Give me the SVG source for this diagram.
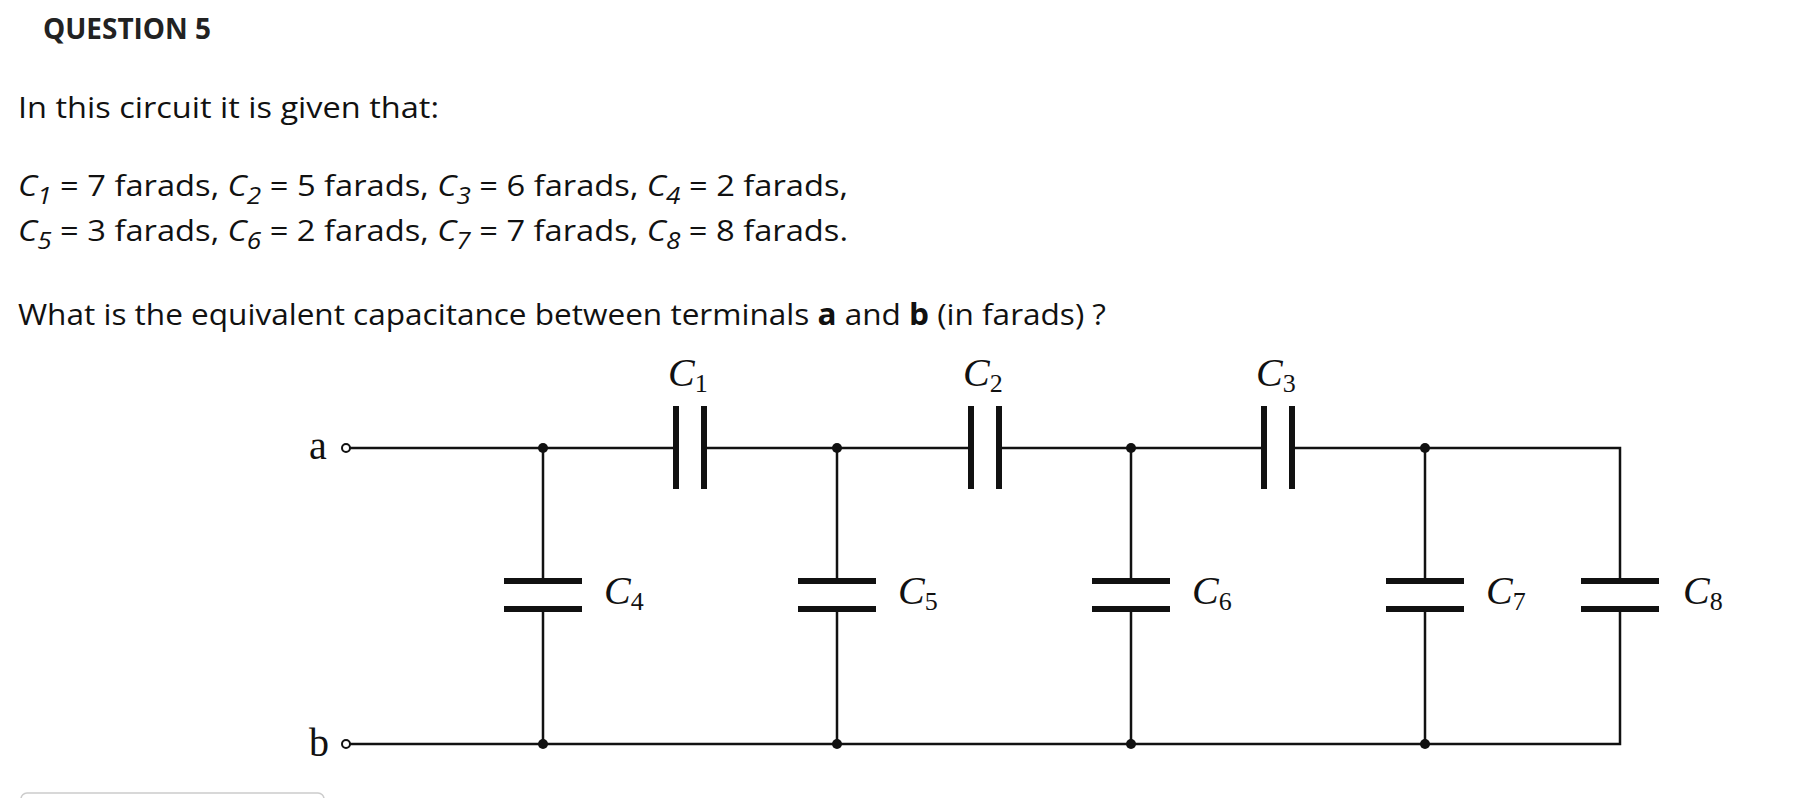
<svg xmlns="http://www.w3.org/2000/svg" width="1794" height="798" viewBox="0 0 1794 798">
<style>
.t{font-family:"Open Sans","DejaVu Sans",sans-serif;font-size:30px;fill:#111}
.m{font-family:"Liberation Serif","DejaVu Serif",serif;font-size:40px;fill:#111}
.w{stroke:#111;stroke-width:2.5;fill:none}
.p{stroke:#111;stroke-width:6;fill:none}
.d{fill:#111}
</style>
<rect width="1794" height="798" fill="#fff"/>
<text x="43" y="39" class="t" style="font-weight:bold;font-size:28px;fill:#222" textLength="168" lengthAdjust="spacingAndGlyphs">QUESTION 5</text>
<text x="18" y="118" class="t" textLength="421" lengthAdjust="spacingAndGlyphs">In this circuit it is given that:</text>
<text x="18" y="196" class="t" textLength="830" lengthAdjust="spacingAndGlyphs"><tspan font-style="italic">C</tspan><tspan font-style="italic" font-size="24" dy="8">1</tspan><tspan dy="-8"> = 7 farads, </tspan><tspan font-style="italic">C</tspan><tspan font-style="italic" font-size="24" dy="8">2</tspan><tspan dy="-8"> = 5 farads, </tspan><tspan font-style="italic">C</tspan><tspan font-style="italic" font-size="24" dy="8">3</tspan><tspan dy="-8"> = 6 farads, </tspan><tspan font-style="italic">C</tspan><tspan font-style="italic" font-size="24" dy="8">4</tspan><tspan dy="-8"> = 2 farads,</tspan></text>
<text x="18" y="241" class="t" textLength="830" lengthAdjust="spacingAndGlyphs"><tspan font-style="italic">C</tspan><tspan font-style="italic" font-size="24" dy="8">5</tspan><tspan dy="-8"> = 3 farads, </tspan><tspan font-style="italic">C</tspan><tspan font-style="italic" font-size="24" dy="8">6</tspan><tspan dy="-8"> = 2 farads, </tspan><tspan font-style="italic">C</tspan><tspan font-style="italic" font-size="24" dy="8">7</tspan><tspan dy="-8"> = 7 farads, </tspan><tspan font-style="italic">C</tspan><tspan font-style="italic" font-size="24" dy="8">8</tspan><tspan dy="-8"> = 8 farads.</tspan></text>
<text x="18" y="325" class="t" textLength="1088" lengthAdjust="spacingAndGlyphs">What is the equivalent capacitance between terminals <tspan font-weight="bold">a</tspan> and <tspan font-weight="bold">b</tspan> (in farads) ?</text>
<rect x="21" y="793" width="303" height="20" rx="6" fill="none" stroke="#ccc" stroke-width="1.5"/>

<g id="connectors">
<path class="w" d="M350 448H676M704 448H971M999 448H1264M1292 448H1620V581M1620 609V744H350"/>
<path class="w" d="M543 448V581M543 609V744M837 448V581M837 609V744M1131 448V581M1131 609V744M1425 448V581M1425 609V744"/>
</g>
<g id="terminal-a"><circle cx="346" cy="448" r="4" fill="#fff" stroke="#111" stroke-width="2"/><text x="309" y="459" class="m" font-size="38">a</text></g>
<g id="terminal-b"><circle cx="346" cy="744" r="4" fill="#fff" stroke="#111" stroke-width="2"/><text x="309" y="756" class="m" font-size="38">b</text></g>
<g id="junctions" class="d">
<circle cx="543" cy="448" r="5"/><circle cx="837" cy="448" r="5"/><circle cx="1131" cy="448" r="5"/><circle cx="1425" cy="448" r="5"/>
<circle cx="543" cy="744" r="5"/><circle cx="837" cy="744" r="5"/><circle cx="1131" cy="744" r="5"/><circle cx="1425" cy="744" r="5"/>
</g>
<g id="C1"><path class="p" d="M676 406V489M704 406V489"/><text x="668" y="386" class="m"><tspan font-style="italic">C</tspan><tspan font-size="26" dy="6">1</tspan></text></g>
<g id="C2"><path class="p" d="M971 406V489M999 406V489"/><text x="963" y="386" class="m"><tspan font-style="italic">C</tspan><tspan font-size="26" dy="6">2</tspan></text></g>
<g id="C3"><path class="p" d="M1264 406V489M1292 406V489"/><text x="1256" y="386" class="m"><tspan font-style="italic">C</tspan><tspan font-size="26" dy="6">3</tspan></text></g>
<g id="C4"><path class="p" d="M504 581H582M504 609H582"/><text x="604" y="604" class="m"><tspan font-style="italic">C</tspan><tspan font-size="26" dy="6">4</tspan></text></g>
<g id="C5"><path class="p" d="M798 581H876M798 609H876"/><text x="898" y="604" class="m"><tspan font-style="italic">C</tspan><tspan font-size="26" dy="6">5</tspan></text></g>
<g id="C6"><path class="p" d="M1092 581H1170M1092 609H1170"/><text x="1192" y="604" class="m"><tspan font-style="italic">C</tspan><tspan font-size="26" dy="6">6</tspan></text></g>
<g id="C7"><path class="p" d="M1386 581H1464M1386 609H1464"/><text x="1486" y="604" class="m"><tspan font-style="italic">C</tspan><tspan font-size="26" dy="6">7</tspan></text></g>
<g id="C8"><path class="p" d="M1581 581H1659M1581 609H1659"/><text x="1683" y="604" class="m"><tspan font-style="italic">C</tspan><tspan font-size="26" dy="6">8</tspan></text></g>
</svg>
